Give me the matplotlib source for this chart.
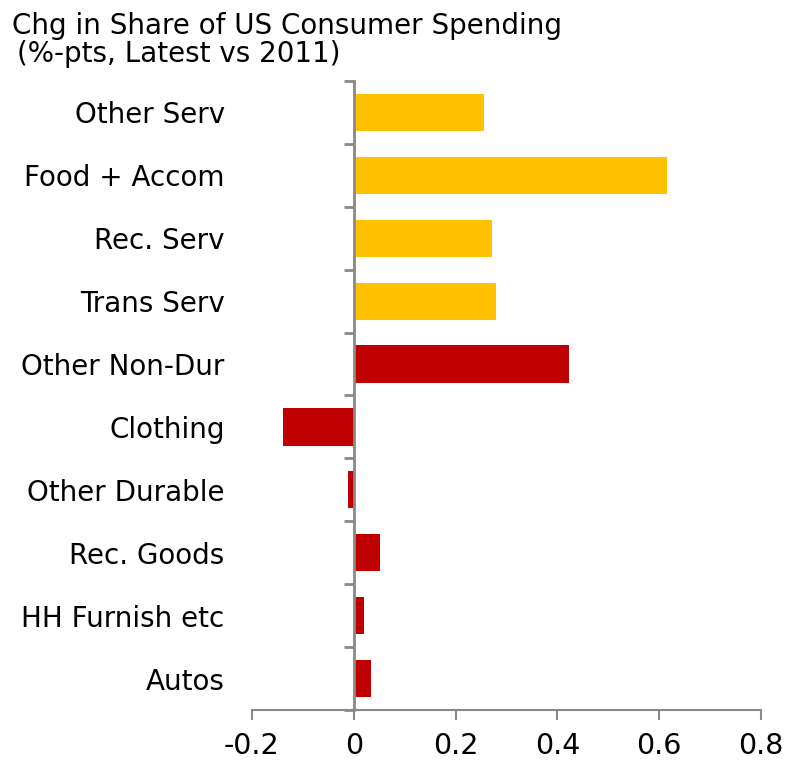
import numpy as np
import matplotlib
matplotlib.use('Agg')
import matplotlib.pyplot as plt

# categories, bottom to top
categories = ['Autos', 'HH Furnish etc', 'Rec. Goods', 'Other Durable', 'Clothing',
              'Other Non-Dur', 'Trans Serv', 'Rec. Serv', 'Food + Accom', 'Other Serv']
values = [0.034, 0.020, 0.052, -0.011, -0.139, 0.422, 0.279, 0.271, 0.615, 0.255]
groups = ['goods'] * 6 + ['services'] * 4

group_colors = {'goods': '#C00000', 'services': '#FFC000'}
axis_color = '#898989'

plt.rcParams['font.family'] = 'DejaVu Sans'

fig = plt.figure(figsize=(7.94, 7.62), dpi=100)
ax = fig.add_axes([252 / 794, 1 - 710 / 762, 509 / 794, 629 / 762])

y = np.arange(len(categories))
ax.barh(y, values, height=0.59, color=[group_colors[g] for g in groups], zorder=2)

ax.set_xlim(-0.2, 0.8)
ax.set_ylim(-0.5, len(categories) - 0.5)

# x axis
ax.set_xticks([-0.2, 0, 0.2, 0.4, 0.6, 0.8])
ax.set_xticklabels(['-0.2', '0', '0.2', '0.4', '0.6', '0.8'], fontsize=20.5)
ax.tick_params(axis='x', direction='out', length=7, width=1.5, color=axis_color, pad=9)

# y axis sits at zero, ticks between categories
ax.spines['left'].set_position(('data', 0))
ax.set_yticks(y)
ax.set_yticklabels(categories, fontsize=20)
ax.tick_params(axis='y', which='major', length=0, pad=93)
ax.set_yticks(np.arange(-0.5, len(categories)), minor=True)
ax.tick_params(axis='y', which='minor', direction='out', length=7, width=2, color=axis_color)

for s in ['top', 'right']:
    ax.spines[s].set_visible(False)
ax.spines['left'].set_color(axis_color)
ax.spines['left'].set_linewidth(2)
ax.spines['bottom'].set_color(axis_color)
ax.spines['bottom'].set_linewidth(1.5)

fig.text(12 / 794, 1 - 34 / 762, 'Chg in Share of US Consumer Spending', fontsize=20, va='baseline')
fig.text(17 / 794, 1 - 62 / 762, '(%-pts, Latest vs 2011)', fontsize=20, va='baseline')

fig.savefig('out.png', dpi=100)
